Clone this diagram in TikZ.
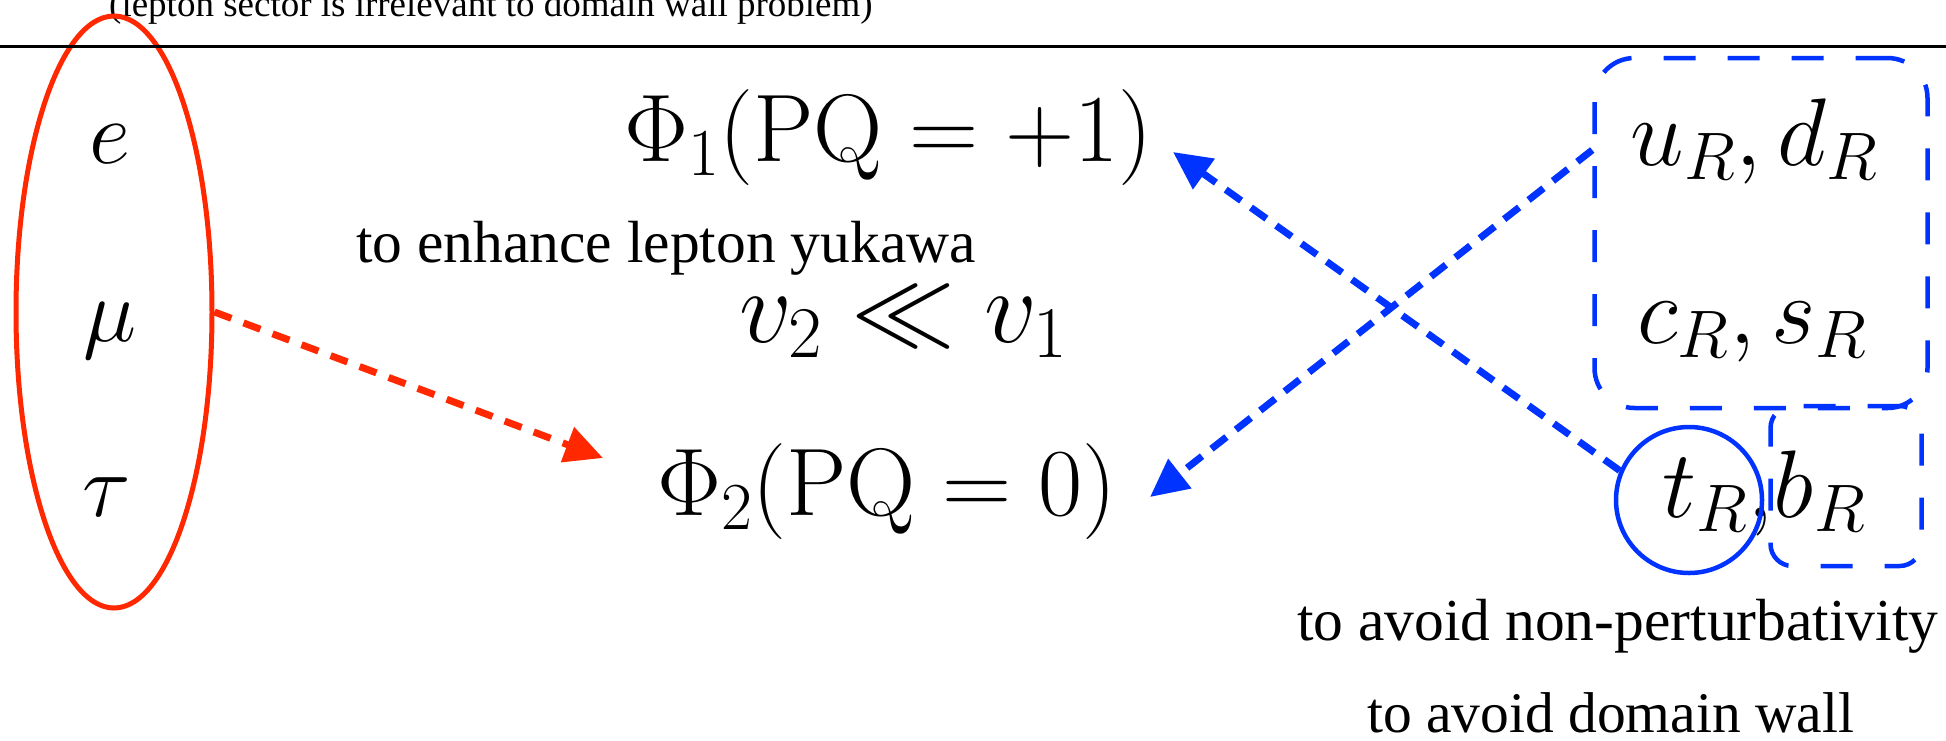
\RequirePackage{fix-cm}
\documentclass[tikz,border=0pt]{standalone}
\usepackage[no-math]{fontspec}
\newfontfamily\tnr{Liberation Serif}
\usetikzlibrary{arrows.meta,shapes.geometric}
\definecolor{myred}{RGB}{255,40,0}
\definecolor{myblue}{RGB}{0,51,255}
\begin{document}
\begin{tikzpicture}[x=1pt,y=-1pt,
  redline/.style={myred, line width=7pt, dash pattern=on 18pt off 13pt, -{Triangle[length=38pt,width=36pt]}},
  blueline/.style={myblue, line width=7pt, dash pattern=on 19pt off 12pt, -{Triangle[length=38pt,width=36pt]}},
  boxline/.style={draw=myblue, line width=4.5pt, dash pattern=on 32pt off 32pt, rectangle, inner sep=0pt},
  lmth/.style={inner sep=0pt, font=\fontsize{90}{100}\selectfont},
  mth/.style={inner sep=0pt, font=\fontsize{96}{110}\selectfont},
  txt/.style={inner sep=0pt, font=\tnr\fontsize{59.5}{70}\selectfont},
]
\useasboundingbox (0,0) rectangle (1946,740);
\fill[white] (0,0) rectangle (1946,740);

% top note
\node[inner sep=0pt, anchor=base west, font=\tnr\fontsize{37}{44}\selectfont] (note) at (109,16) {(lepton sector is irrelevant to domain wall problem)};

% lepton ellipse
\node[draw=myred, line width=5pt, ellipse, inner sep=0pt, minimum width=196pt, minimum height=592pt] (lep) at (114,312) {};
\node[lmth, anchor=base] (e) at (110,163) {$e$};
\node[lmth, anchor=base] (mu) at (110,341) {$\mu$};
\node[lmth, anchor=base] (tau) at (107,516) {$\tau$};

% rule
\draw[line width=3pt] (0,46.5) -- (1946,46.5);

% Higgs
\node[mth, anchor=base west] (phi1) at (624,161) {$\Phi_1(\mathrm{PQ}=+1)$};
\node[mth, anchor=base west] (phi2) at (657,515) {$\Phi_2(\mathrm{PQ}=0)$};
\node[inner sep=0pt, anchor=base west, font=\fontsize{104}{115}\selectfont] (vev) at (739,342) {$v_2\ll v_1$};
\node[txt, anchor=base west] (enh) at (356,262) {to enhance lepton yukawa};

% quarks
\node[mth, anchor=base] (ud) at (1754,165) {$u_R,d_R$};
\node[mth, anchor=base] (cs) at (1752,343) {$c_R,s_R$};
\node[mth, anchor=base] (tb) at (1764,517) {$t_R{,}b_R$};

\node[draw=myblue, line width=4.5pt, circle, minimum size=146pt, inner sep=0pt] (tc) at (1689,500) {};
\node[boxline, rounded corners=40pt, minimum width=333pt, minimum height=350pt] (big) at (1761,233) {};
\node[boxline, rounded corners=22pt, minimum width=151pt, minimum height=160pt] (small) at (1846,486) {};

% bottom notes
\node[txt, anchor=base west] (np) at (1297,640) {to avoid non-perturbativity};
\node[inner sep=0pt, anchor=base west, text depth=0pt, font=\tnr\fontsize{57.5}{68}\selectfont] (dw) at (1367,732) {to avoid domain wall};

% arrows
\coordinate (tipA) at (1173,152);
\coordinate (tipB) at (1150,497);
\coordinate (tipR) at (603,458);
\draw[redline] (lep.east) -- (tipR);
\draw[blueline] (tc.157) -- (tipA);
\draw[blueline] ([yshift=83pt]big.west) -- (tipB);
\end{tikzpicture}
\end{document}
